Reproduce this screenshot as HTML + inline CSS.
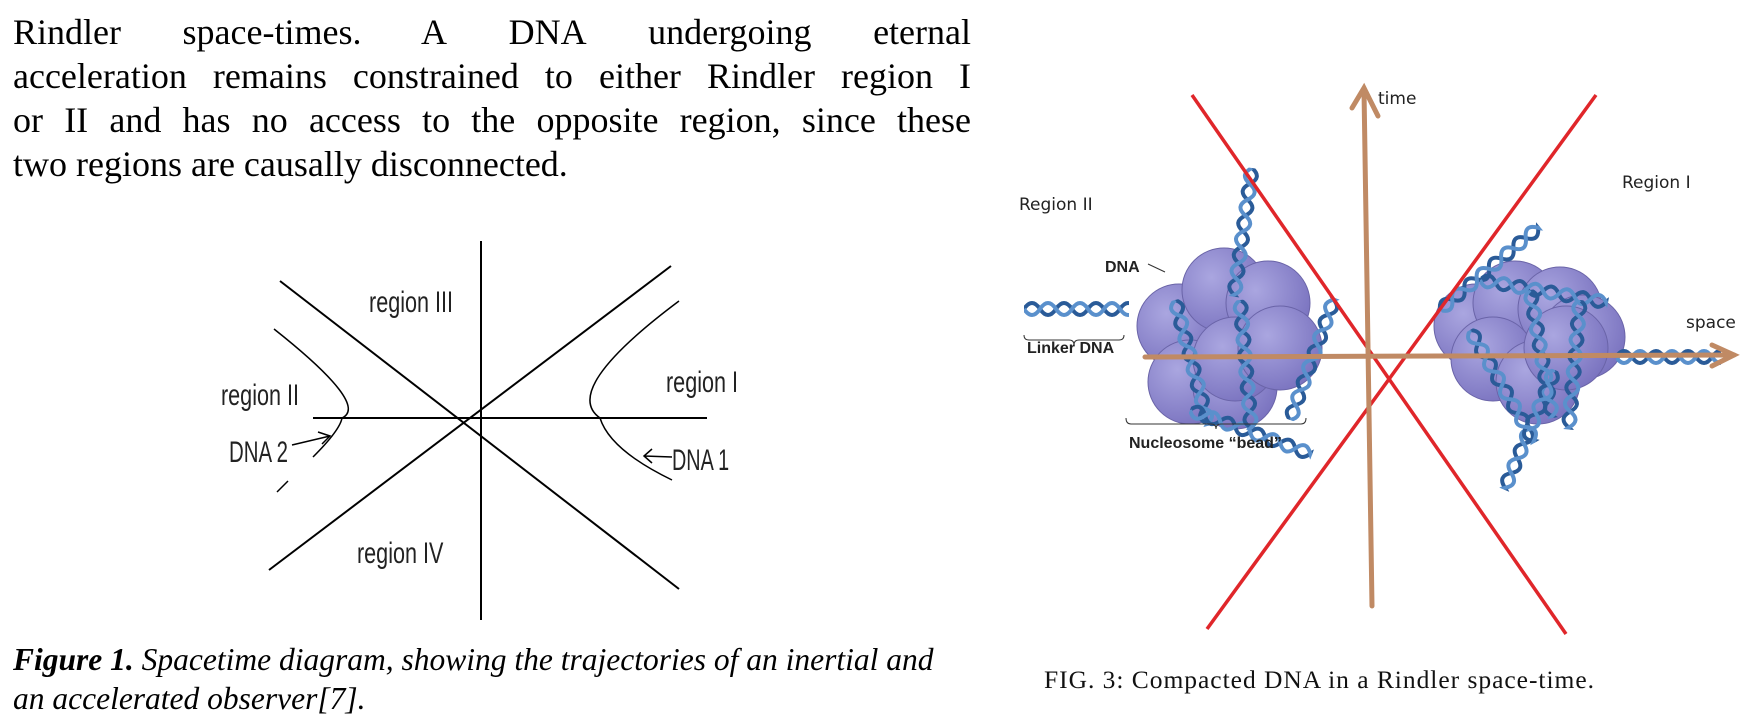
<!DOCTYPE html>
<html><head><meta charset="utf-8"><style>
body{margin:0;background:#fff;width:1760px;height:720px;overflow:hidden;position:relative}
.t{position:absolute;left:13px;width:958px;font-family:"Liberation Serif",serif;font-size:36px;line-height:44.5px;text-align:justify;text-align-last:justify;color:#000}
</style></head><body>
<div class="t" style="top:10px">Rindler&nbsp; space-times.&nbsp; A&nbsp; DNA&nbsp; undergoing&nbsp; eternal</div>
<div class="t" style="top:54px">acceleration remains constrained to either Rindler region I</div>
<div class="t" style="top:98px">or II and has no access to the opposite region, since these</div>
<div class="t" style="top:142px;text-align-last:left;text-align:left">two regions are causally disconnected.</div>
<svg width="1760" height="720" viewBox="0 0 1760 720" style="position:absolute;left:0;top:0">
<defs>
<g id="hx"><path d="M0 0 q8 -12 16 0 t16 0 t16 0 t16 0 t16 0 t16 0 t16 0 t16 0 t16 0 t16 0 t16 0 t16 0" fill="none" stroke="#2a5b98" stroke-width="4"/><path d="M0 0 q8 12 16 0 t16 0 t16 0 t16 0 t16 0 t16 0 t16 0 t16 0 t16 0 t16 0 t16 0 t16 0" fill="none" stroke="#5a90cc" stroke-width="4"/></g>
<clipPath id="c1"><rect x="0" y="-14" width="105" height="28"/></clipPath>
<clipPath id="c2"><rect x="0" y="-14" width="130" height="28"/></clipPath>
<radialGradient id="pg" cx="0.35" cy="0.35" r="0.7"><stop offset="0" stop-color="#aaa6e0"/><stop offset="1" stop-color="#7b74c0"/></radialGradient>
</defs>
<g stroke="#000" stroke-width="2" fill="none">
<line x1="481" y1="241" x2="481" y2="620"/>
<line x1="313" y1="418" x2="707" y2="418"/>
<line x1="280" y1="281" x2="679" y2="589"/>
<line x1="269" y1="570" x2="671" y2="266"/>
<path d="M274 329 Q370 405 342 418 Q340 430 313 457" stroke-width="1.5"/>
<path d="M679 301 Q560 390 600 418 Q610 450 672 480" stroke-width="1.5"/>
<line x1="277" y1="492" x2="288" y2="481" stroke-width="1.5"/>
<path d="M292 445 L330 436 M318 432 L330 436 L322 444" stroke-width="1.5"/>
<path d="M672 457 L644 456 M652 449 L644 456 L652 463" stroke-width="1.5"/>
</g>
<g font-family="Liberation Sans,sans-serif" font-size="30" fill="#222">
<text x="369" y="312" transform="translate(369 0) scale(0.72 1) translate(-369 0)">region III</text>
<text x="221" y="405" transform="translate(221 0) scale(0.72 1) translate(-221 0)">region II</text>
<text x="229" y="462" transform="translate(229 0) scale(0.68 1) translate(-229 0)">DNA 2</text>
<text x="666" y="392" transform="translate(666 0) scale(0.72 1) translate(-666 0)">region I</text>
<text x="672" y="470" transform="translate(672 0) scale(0.66 1) translate(-672 0)">DNA 1</text>
<text x="357" y="563" transform="translate(357 0) scale(0.72 1) translate(-357 0)">region IV</text>
</g>
<text x="13" y="670" font-family="Liberation Serif,serif" font-size="31.5" font-style="italic"><tspan font-weight="bold">Figure 1.</tspan> Spacetime diagram, showing the trajectories of an inertial and</text>
<text x="13" y="709" font-family="Liberation Serif,serif" font-size="31.5" font-style="italic">an accelerated observer[7].</text>
<g stroke="#6a64a8" stroke-width="1" fill="url(#pg)">
<circle cx="1179" cy="326" r="42"/><circle cx="1224" cy="290" r="42"/><circle cx="1268" cy="303" r="42"/><circle cx="1190" cy="382" r="42"/><circle cx="1235" cy="387" r="42"/><circle cx="1235" cy="359" r="42"/><circle cx="1280" cy="348" r="42"/>
<circle cx="1476" cy="326" r="42"/><circle cx="1515" cy="303" r="42"/><circle cx="1560" cy="309" r="42"/><circle cx="1583" cy="337" r="42"/><circle cx="1493" cy="359" r="42"/><circle cx="1538" cy="382" r="42"/><circle cx="1566" cy="348" r="42"/>
</g>
<g clip-path="url(#c1)" transform="translate(1024 309)"><use href="#hx"/></g>
<g transform="translate(1252 168) rotate(98)"><g clip-path="url(#c2)"><use href="#hx"/></g></g>
<g transform="translate(1175 300) rotate(75)"><g clip-path="url(#c2)"><use href="#hx"/></g></g>
<g transform="translate(1190 410) rotate(20)"><g clip-path="url(#c2)"><use href="#hx"/></g></g>
<g transform="translate(1290 420) rotate(-70)"><g clip-path="url(#c2)"><use href="#hx"/></g></g>
<g transform="translate(1240 300) rotate(85)"><g clip-path="url(#c2)"><use href="#hx"/></g></g>
<g transform="translate(1440 310) rotate(-40)"><g clip-path="url(#c2)"><use href="#hx"/></g></g>
<g transform="translate(1480 280) rotate(10)"><g clip-path="url(#c2)"><use href="#hx"/></g></g>
<g transform="translate(1530 290) rotate(80)"><g clip-path="url(#c2)"><use href="#hx"/></g></g>
<g transform="translate(1555 370) rotate(113)"><g clip-path="url(#c2)"><use href="#hx"/></g></g>
<g transform="translate(1470 330) rotate(60)"><g clip-path="url(#c2)"><use href="#hx"/></g></g>
<g transform="translate(1580 300) rotate(95)"><g clip-path="url(#c2)"><use href="#hx"/></g></g>
<g clip-path="url(#c1)" transform="translate(1616 357)"><use href="#hx"/></g>
<g stroke="#e0262a" stroke-width="3.5">
<line x1="1192" y1="95" x2="1566" y2="634"/>
<line x1="1596" y1="95" x2="1207" y2="629"/>
</g>
<g stroke="#c08a64" stroke-width="5" fill="none" stroke-linecap="round">
<line x1="1364" y1="90" x2="1372" y2="606"/>
<path d="M1352 108 L1364 88 L1378 116"/>
<line x1="1145" y1="357" x2="1734" y2="355"/>
<path d="M1712 345 L1734 355 L1712 366"/>
</g>
<g font-family="DejaVu Sans,sans-serif" font-size="17" fill="#222">
<text x="1378" y="104">time</text>
<text x="1686" y="328">space</text>
<text x="1019" y="210">Region II</text>
<text x="1622" y="188">Region I</text>
</g>
<g font-family="Liberation Sans,sans-serif" font-size="16" font-weight="bold" fill="#222">
<text x="1105" y="272">DNA</text>
<text x="1027" y="353">Linker DNA</text>
<text x="1129" y="448">Nucleosome “bead”</text>
</g>
<g stroke="#333" stroke-width="1" fill="none">
<path d="M1024 335 q0 5 5 5 h40 q5 0 5 5 q0 -5 5 -5 h40 q5 0 5 -5"/>
<path d="M1126 418 q0 6 5 6 h80 q5 0 5 5 q0 -5 5 -5 h80 q5 0 5 -6"/>
<path d="M1148 264 L1165 272"/>
</g>
<text x="1044" y="688" font-family="Liberation Serif,serif" font-size="25.5" fill="#111" textLength="550" lengthAdjust="spacing">FIG. 3: Compacted DNA in a Rindler space-time.</text>
</svg>
</body></html>
